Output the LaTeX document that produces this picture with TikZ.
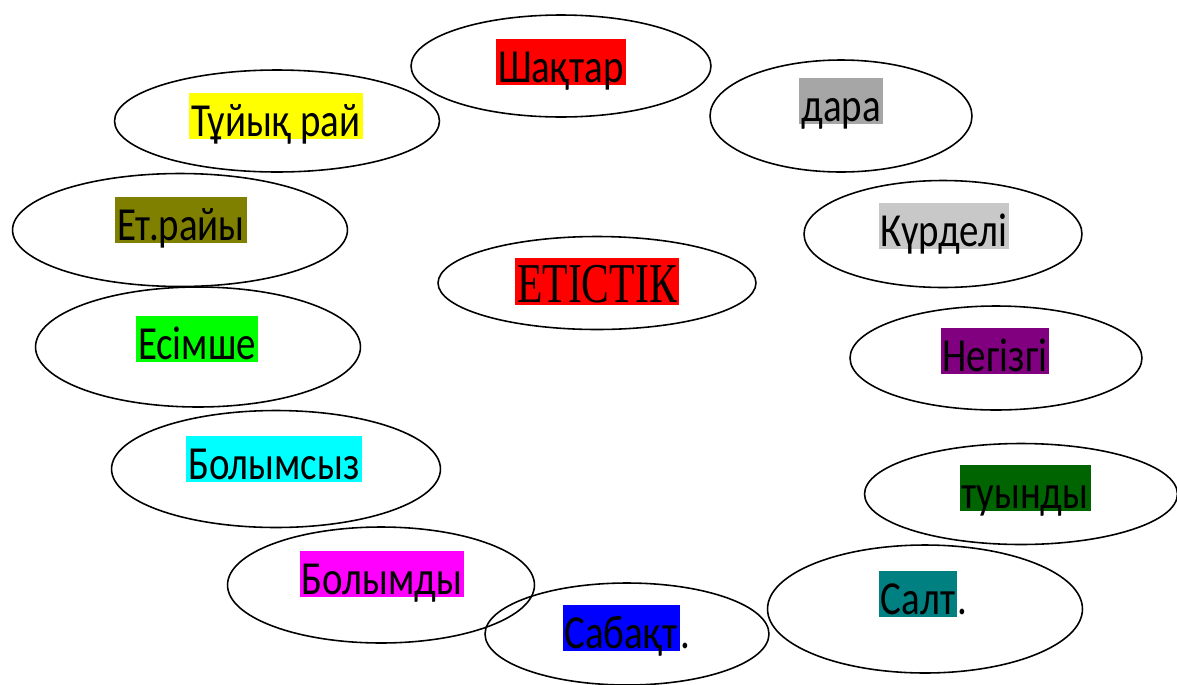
\documentclass[tikz,border=0pt]{standalone}
\usepackage{fontspec}
\setmainfont{Carlito}[FakeStretch=0.82]
\newfontfamily\timesfont{Liberation Serif}[FakeStretch=0.74]
\usetikzlibrary{shapes.geometric}

\definecolor{darabg}{RGB}{166,166,166}
\definecolor{kurdelibg}{RGB}{200,200,200}
\definecolor{olivebg}{RGB}{128,128,0}
\definecolor{purplebg}{RGB}{128,0,128}
\definecolor{darkgreenbg}{RGB}{0,100,0}
\definecolor{tealbg}{RGB}{0,128,128}
\definecolor{cyanbg}{RGB}{0,255,255}
\definecolor{magentabg}{RGB}{255,0,255}
\definecolor{greenbg}{RGB}{0,255,0}
\definecolor{redbg}{RGB}{255,0,0}
\definecolor{yellowbg}{RGB}{255,255,0}
\definecolor{bluebg}{RGB}{0,0,255}

\tikzset{
  oval/.style={draw, ellipse, line width=0.9pt, inner sep=0pt},
  word/.style={font=\fontsize{27}{30}\selectfont, text height=0.86cm, text depth=0.06cm, inner xsep=0.04cm, inner ysep=0pt},
  dot/.style={font=\fontsize{27}{30}\selectfont, inner sep=0pt, anchor=base west}
}

\begin{document}
\begin{tikzpicture}[x=0.02cm,y=-0.02cm]
\useasboundingbox (0,0) rectangle (1177,684);
% ellipses
\node[oval, minimum width=6cm, minimum height=2.04cm] (shaktar) at (561,66) {};
\node[oval, minimum width=5.24cm, minimum height=2.24cm] (dara) at (841,116) {};
\node[oval, minimum width=6.5cm, minimum height=2.04cm] (tuiyk) at (277,121) {};
\node[oval, minimum width=6.7cm, minimum height=2.26cm] (etrai) at (180,230) {};
\node[oval, minimum width=5.56cm, minimum height=2.14cm] (kurdeli) at (943,234) {};
\node[oval, minimum width=6.36cm, minimum height=1.86cm] (etistik) at (597,283) {};
\node[oval, minimum width=6.5cm, minimum height=2.4cm] (esimshe) at (198,347) {};
\node[oval, minimum width=5.84cm, minimum height=2.08cm] (negizgi) at (996,358) {};
\node[oval, minimum width=6.58cm, minimum height=2.34cm] (bolymsyz) at (276,469) {};
\node[oval, minimum width=6.26cm, minimum height=2.02cm] (tuyndy) at (1021,494) {};
\node[oval, minimum width=6.14cm, minimum height=2.32cm] (bolymdy) at (381,585) {};
\node[oval, minimum width=5.68cm, minimum height=2.04cm] (sabakt) at (627,634) {};
\node[oval, minimum width=6.3cm, minimum height=2.56cm] (salt) at (925,609) {};
% words
\node[word, fill=redbg] (shaktar-w) at (561,62) {Шақтар};
\node[word, fill=darabg] (dara-w) at (841,101) {дара};
\node[word, fill=yellowbg] (tuiyk-w) at (276,116) {Тұйық рай};
\node[word, fill=olivebg] (etrai-w) at (181,220) {Ет.райы};
\node[word, fill=kurdelibg] (kurdeli-w) at (944,226) {Күрделі};
\node[word, fill=redbg, font=\timesfont\fontsize{32}{34}\selectfont, text height=0.9cm, text depth=0.04cm] (etistik-w) at (597,281) {ЕТІСТІК};
\node[word, fill=greenbg] (esimshe-w) at (197,339) {Есімше};
\node[word, fill=purplebg] (negizgi-w) at (995,351) {Негізгі};
\node[word, fill=cyanbg] (bolymsyz-w) at (274,459) {Болымсыз};
\node[word, fill=darkgreenbg] (tuyndy-w) at (1025,488) {туынды};
\node[word, fill=magentabg] (bolymdy-w) at (382,574) {Болымды};
\node[word, fill=bluebg] (sabakt-w) at (621,628) {Сабақт};
\node[dot] at (sabakt-w.base east) {.};
\node[word, fill=tealbg] (salt-w) at (918,594) {Салт};
\node[dot] at (salt-w.base east) {.};
\end{tikzpicture}
\end{document}
